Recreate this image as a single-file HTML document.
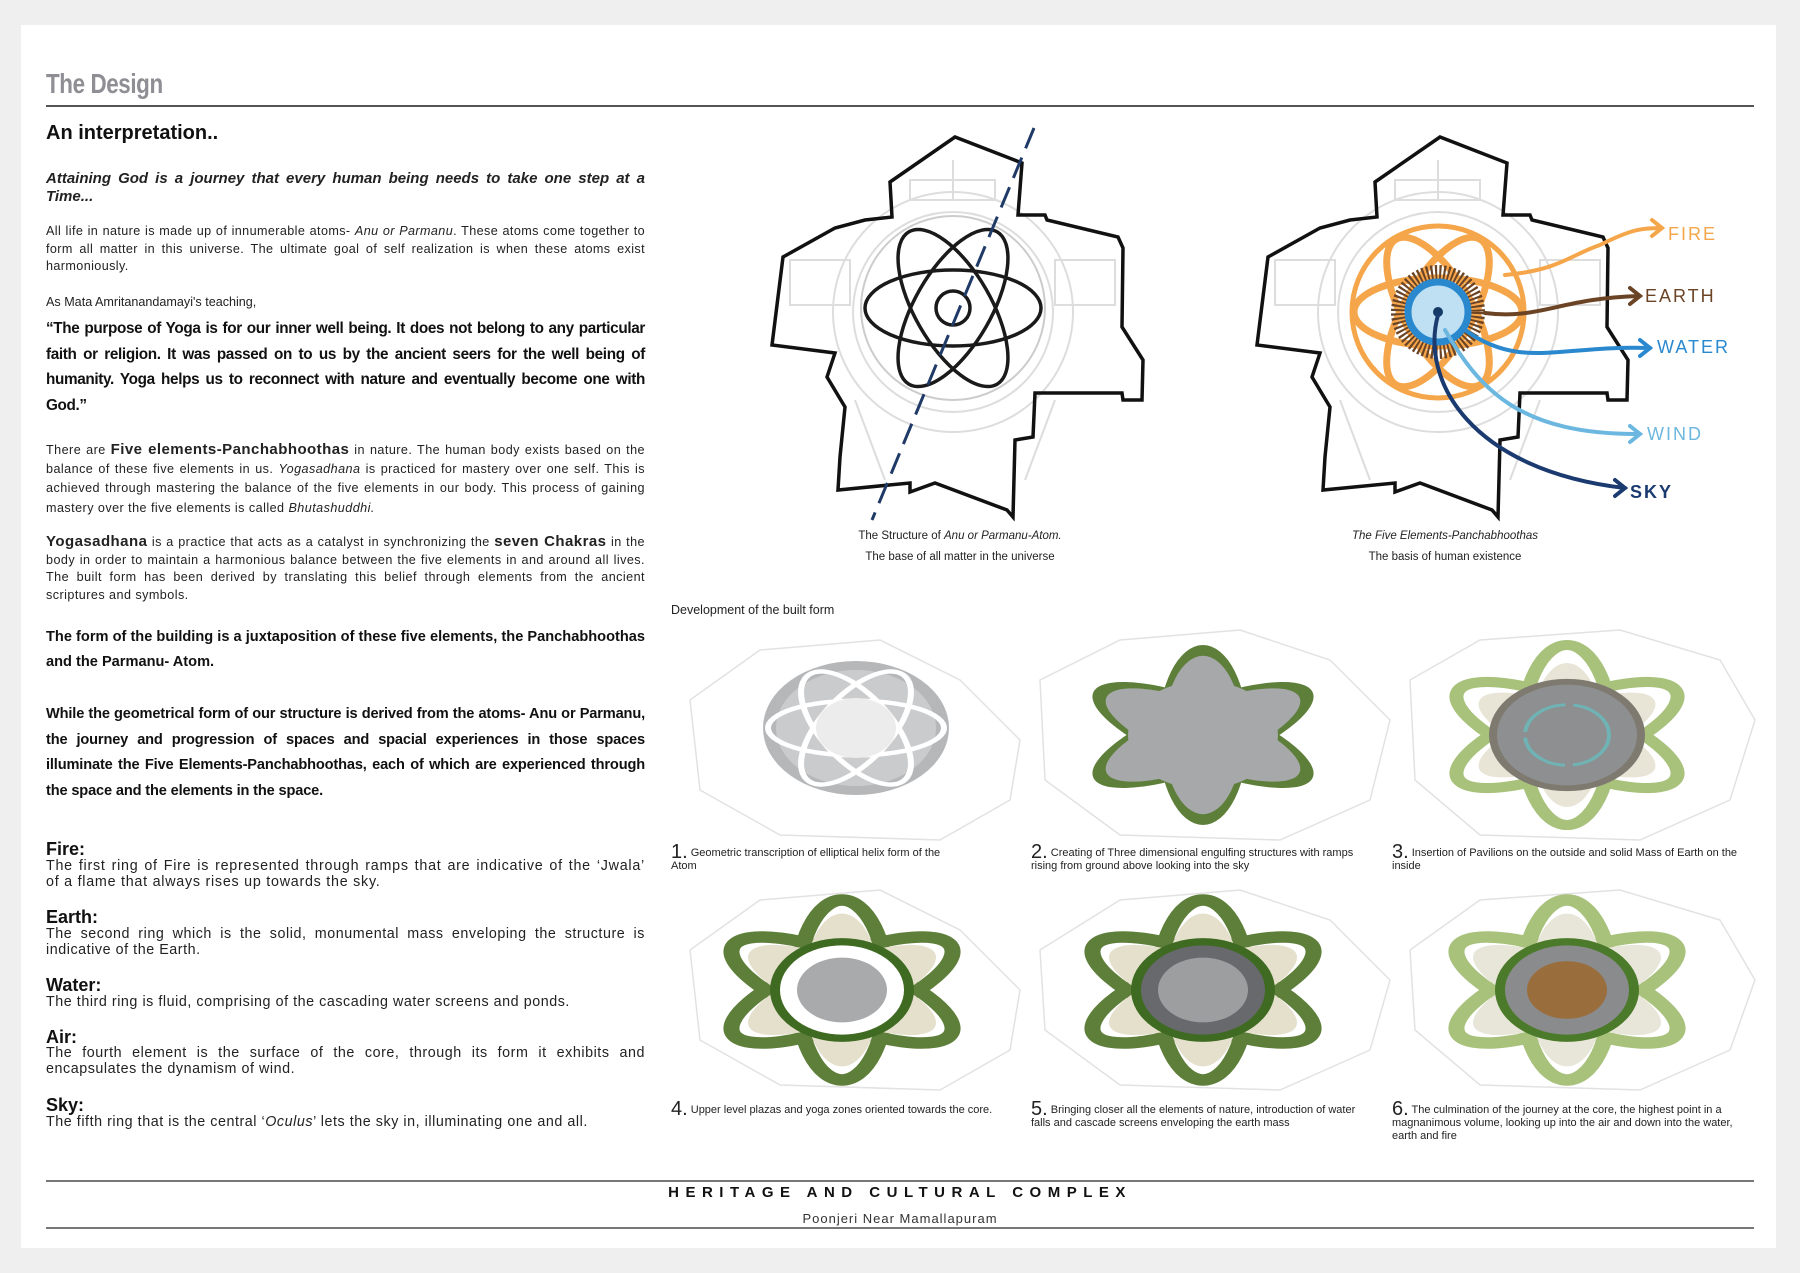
<!DOCTYPE html>
<html><head><meta charset="utf-8">
<style>
*{margin:0;padding:0;box-sizing:border-box}
html,body{width:1800px;height:1273px;overflow:hidden;background:#efefef;font-family:"Liberation Sans",sans-serif;color:#111}
#card{position:absolute;left:21px;top:25px;width:1755px;height:1223px;background:#fff}
.a{position:absolute}
p.t{position:absolute;left:46px;width:599px;text-align:justify;color:#222}
.cap{position:absolute;font-size:11px;color:#222;line-height:13px}
.cap b{font-weight:normal;font-size:20px;vertical-align:-2px}
.el{letter-spacing:.55px}
</style></head><body>
<div id="card"></div>
<div class="a" style="left:46px;top:68px;font-size:28px;font-weight:bold;color:#8e8e94;transform:scaleX(.8);transform-origin:left;letter-spacing:-.5px">The Design</div>
<div class="a" style="left:46px;top:105px;width:1708px;height:2px;background:#555"></div>
<div class="a" style="left:46px;top:122px;font-size:20px;font-weight:bold">An interpretation..</div>
<p class="t" style="top:170px;font-size:15px;line-height:18px;font-style:italic;font-weight:bold;text-align-last:left">Attaining God is a journey that every human being needs to take one step at a Time...</p>
<p class="t" style="top:223px;font-size:12.6px;line-height:17.5px;letter-spacing:.4px">All life in nature is made up of innumerable atoms- <i>Anu or Parmanu</i>. These atoms come together to form all matter in this universe. The ultimate goal of self realization is when these atoms exist harmoniously.</p>
<p class="t" style="top:294px;font-size:12.6px;line-height:17px">As Mata Amritanandamayi's teaching,</p>
<p class="t" style="top:316px;font-size:15.3px;line-height:25.5px;font-weight:bold;color:#111;letter-spacing:-.35px">“The purpose of Yoga is for our inner well being. It does not belong to any particular faith or religion. It was passed on to us by the ancient seers for the well being of humanity. Yoga helps us to reconnect with nature and eventually become one with God.”</p>
<p class="t" style="top:440px;font-size:12.6px;line-height:19.2px;letter-spacing:.45px">There are <b style="font-size:15px">Five elements-Panchabhoothas</b> in nature. The human body exists based on the balance of these five elements in us. <i>Yogasadhana</i> is practiced for mastery over one self. This is achieved through mastering the balance of the five elements in our body. This process of gaining mastery over the five elements is called <i>Bhutashuddhi.</i></p>
<p class="t" style="top:533px;font-size:12.6px;line-height:17.5px;letter-spacing:.45px"><b style="font-size:15px">Yogasadhana</b> is a practice that acts as a catalyst in synchronizing the <b style="font-size:15px">seven Chakras</b> in the body in order to maintain a harmonious balance between the five elements in and around all lives. The built form has been derived by translating this belief through elements from the ancient scriptures and symbols.</p>
<p class="t" style="top:625px;font-size:14.6px;line-height:25px;font-weight:bold;color:#111">The form of the building is a juxtaposition of these five elements, the Panchabhoothas and the Parmanu- Atom.</p>
<p class="t" style="top:702px;font-size:14.6px;line-height:25.5px;font-weight:bold;color:#111;letter-spacing:-.15px">While the geometrical form of our structure is derived from the atoms- Anu or Parmanu, the journey and progression of spaces and spacial experiences in those spaces illuminate the Five Elements-Panchabhoothas, each of which are experienced through the space and the elements in the space.</p>
<div class="a" style="left:46px;top:839px;font-size:18px;font-weight:bold">Fire:</div>
<p class="t" style="top:859px;font-size:14.3px;line-height:15.5px;letter-spacing:.75px">The first ring of Fire is represented through ramps that are indicative of the ‘Jwala’ of a flame that always rises up towards the sky.</p>
<div class="a" style="left:46px;top:907px;font-size:18px;font-weight:bold">Earth:</div>
<p class="t el" style="top:927px;font-size:14.3px;line-height:15.5px">The second ring which is the solid, monumental mass enveloping the structure is indicative of the Earth.</p>
<div class="a" style="left:46px;top:975px;font-size:18px;font-weight:bold">Water:</div>
<p class="t el" style="top:995px;font-size:14.3px;line-height:15.5px">The third ring is fluid, comprising of the cascading water screens and ponds.</p>
<div class="a" style="left:46px;top:1027px;font-size:18px;font-weight:bold">Air:</div>
<p class="t el" style="top:1046px;font-size:14.3px;line-height:15.5px">The fourth element is the surface of the core, through its form it exhibits and encapsulates the dynamism of wind.</p>
<div class="a" style="left:46px;top:1095px;font-size:18px;font-weight:bold">Sky:</div>
<p class="t el" style="top:1115px;font-size:14.3px;line-height:15.5px">The fifth ring that is the central ‘<i>Oculus</i>’ lets the sky in, illuminating one and all.</p>

<svg class="a" style="left:0;top:0" width="1800" height="1273" viewBox="0 0 1800 1273">
<defs>
<path id="site" d="M1375,182 L1440,137 L1507,163 L1503,215 L1530,215 L1532,220 L1603,237 L1608,248 L1607,327 L1628,360 L1627,400 L1608,400 L1607,393 L1520,393 L1518,437 L1500,440 L1498,517 L1492,510 L1420,483 L1395,492 L1395,483 L1323,490 L1325,457 L1330,407 L1312,377 L1320,353 L1257,345 L1268,257 L1320,228 L1350,220 L1377,217 Z"/>
<g id="plan" fill="none" stroke="#ddd" stroke-width="2">
<circle cx="1438" cy="312" r="100"/><circle cx="1438" cy="312" r="120"/>
<rect x="1275" y="260" width="60" height="45"/><rect x="1540" y="260" width="60" height="45"/>
<rect x="1395" y="180" width="85" height="20"/><path d="M1340,400 L1370,480 M1540,400 L1510,480 M1438,160 L1438,200"/>
</g>
<g id="ring3"><ellipse rx="125" ry="45" transform="rotate(90)"/><ellipse rx="125" ry="45" transform="rotate(30)"/><ellipse rx="125" ry="45" transform="rotate(150)"/></g>
</defs>
<g transform="translate(-485,0)"><use href="#plan"/><use href="#site" fill="none" stroke="#111" stroke-width="3.5"/></g>
<g fill="none" stroke="#1a1a1a" stroke-width="3.5" transform="translate(953,308)">
<circle r="92" stroke="#ccc" stroke-width="2"/>
<ellipse rx="88" ry="38"/><ellipse rx="88" ry="38" transform="rotate(60)"/><ellipse rx="88" ry="38" transform="rotate(120)"/>
<circle r="17"/></g>
<path d="M1034,128 L872,520" stroke="#1f3a66" stroke-width="3" stroke-dasharray="22,10" fill="none"/>
<use href="#plan"/><use href="#site" fill="none" stroke="#111" stroke-width="3.5"/>
<g transform="translate(1438,312)" fill="none">
<circle r="86" stroke="#f5a64a" stroke-width="5"/>
<g stroke="#f5a64a" stroke-width="7"><ellipse rx="84" ry="34"/><ellipse rx="84" ry="34" transform="rotate(60)"/><ellipse rx="84" ry="34" transform="rotate(120)"/></g>
<circle r="38" stroke="#6b4426" stroke-width="18" stroke-dasharray="2,2"/>
<circle r="30" fill="#bfe0f2" stroke="#2a88cf" stroke-width="7"/>
<circle r="5" fill="#153a66"/></g>
<g fill="none" stroke-width="4" stroke-linecap="round">
<path d="M1505,275 C1560,270 1570,255 1600,245 C1630,230 1640,228 1662,228 M1652,220 L1662,228 L1652,236" stroke="#f5a64a"/>
<path d="M1485,313 C1540,320 1560,298 1640,296 M1630,288 L1640,296 L1630,304" stroke="#6b4426"/>
<path d="M1465,330 C1520,370 1560,345 1650,348 M1640,340 L1650,348 L1640,356" stroke="#2a88cf"/>
<path d="M1445,330 C1480,390 1520,435 1640,434 M1630,426 L1640,434 L1630,442" stroke="#6cb7e0"/>
<path d="M1438,315 C1420,380 1470,470 1625,488 M1615,480 L1625,488 L1615,496" stroke="#1a3a70"/>
</g>
<g font-family="Liberation Sans,sans-serif" font-size="18" letter-spacing="2">
<text x="1668" y="240" fill="#f5a64a">FIRE</text>
<text x="1645" y="302" fill="#6b4426">EARTH</text>
<text x="1657" y="353" fill="#2a88cf">WATER</text>
<text x="1647" y="440" fill="#6cb7e0">WIND</text>
<text x="1630" y="498" fill="#1a3a70" font-weight="bold">SKY</text>
</g>
<g fill="none" stroke="#e2e2e2" stroke-width="1.5">
<path d="M690,700 L760,650 L880,640 L960,680 L1020,740 L1010,800 L940,840 L780,835 L700,790 Z"/>
<path d="M1040,680 L1120,640 L1240,630 L1330,660 L1390,720 L1370,800 L1280,840 L1120,835 L1045,780 Z"/>
<path d="M1410,680 L1480,640 L1620,630 L1720,660 L1755,720 L1730,800 L1640,840 L1480,835 L1415,780 Z"/>
<path d="M690,950 L760,900 L880,890 L960,930 L1020,990 L1010,1050 L940,1090 L780,1085 L700,1040 Z"/>
<path d="M1040,950 L1120,900 L1240,890 L1330,920 L1390,980 L1370,1050 L1280,1090 L1120,1085 L1045,1030 Z"/>
<path d="M1410,950 L1480,900 L1620,890 L1720,920 L1755,980 L1730,1050 L1640,1090 L1480,1085 L1415,1030 Z"/>
</g>
<g transform="translate(856,728)">
<ellipse rx="93" ry="67" fill="#b5b7b9"/>
<ellipse rx="80" ry="58" fill="#c9cbcd"/>
<g fill="none" stroke="#fff" stroke-width="6" transform="scale(1,0.72)"><ellipse rx="88" ry="38"/><ellipse rx="88" ry="38" transform="rotate(60)"/><ellipse rx="88" ry="38" transform="rotate(120)"/></g>
<ellipse rx="40" ry="30" fill="#ececec"/></g>
<g transform="translate(1203,735) scale(1,0.72)">
<use href="#ring3" fill="#5e7f3a"/><g transform="scale(.88)"><use href="#ring3" fill="#a6a8aa"/></g><circle r="75" fill="#a6a8aa"/></g>
<g transform="translate(1567,735) scale(1,0.72)">
<g fill="none" stroke="#a8c27c" stroke-width="14"><use href="#ring3"/></g>
<g transform="scale(.8)" fill="#e8e4d6"><use href="#ring3"/></g>
<circle r="78" fill="#7f7a70"/><circle r="70" fill="#8e8f91"/>
<circle r="42" fill="none" stroke="#6fb3b5" stroke-width="4" stroke-dasharray="60,8"/></g>
<g transform="translate(842,990) scale(1,0.72)">
<g fill="none" stroke="#5e7f3a" stroke-width="16"><use href="#ring3"/></g>
<g transform="scale(.85)" fill="#e4e0cc"><use href="#ring3"/></g>
<circle r="72" fill="#3f6a22"/><circle r="62" fill="#fff"/><circle r="45" fill="#a9aaac"/></g>
<g transform="translate(1203,990) scale(1,0.72)">
<g fill="none" stroke="#5e7f3a" stroke-width="16"><use href="#ring3"/></g>
<g transform="scale(.85)" fill="#e4e0cc"><use href="#ring3"/></g>
<circle r="72" fill="#3f6a22"/><circle r="62" fill="#67696c"/><circle r="45" fill="#9d9ea0"/></g>
<g transform="translate(1567,990) scale(1,0.72)">
<g fill="none" stroke="#a8c27c" stroke-width="16"><use href="#ring3"/></g>
<g transform="scale(.85)" fill="#e8e6d8"><use href="#ring3"/></g>
<circle r="72" fill="#4b7a2a"/><circle r="62" fill="#8a8b8d"/><circle r="40" fill="#9a6d3d"/></g>
</svg>

<div class="a" style="left:790px;top:526px;width:340px;text-align:center;font-size:11.5px;line-height:21px;color:#222">The Structure of <i>Anu or Parmanu-Atom.</i><br>The base of all matter in the universe</div>
<div class="a" style="left:1270px;top:526px;width:350px;text-align:center;font-size:11.5px;line-height:21px;color:#222"><i>The Five Elements-Panchabhoothas</i><br>The basis of human existence</div>
<div class="a" style="left:671px;top:603px;font-size:12.5px;color:#222">Development of the built form</div>

<div class="cap" style="left:671px;top:846px;width:290px"><b>1.</b> Geometric transcription of elliptical helix form of the Atom</div>
<div class="cap" style="left:1031px;top:846px;width:345px"><b>2.</b> Creating of Three dimensional engulfing structures with ramps rising from ground above looking into the sky</div>
<div class="cap" style="left:1392px;top:846px;width:365px"><b>3.</b> Insertion of Pavilions on the outside and solid Mass of Earth on the inside</div>
<div class="cap" style="left:671px;top:1103px;width:350px"><b>4.</b> Upper level plazas and yoga zones oriented towards the core.</div>
<div class="cap" style="left:1031px;top:1103px;width:345px"><b>5.</b> Bringing closer all the elements of nature, introduction of water falls and cascade screens enveloping the earth mass</div>
<div class="cap" style="left:1392px;top:1103px;width:345px"><b>6.</b> The culmination of the journey at the core, the highest point in a magnanimous volume, looking up into the air and down into the water, earth and fire</div>

<div class="a" style="left:46px;top:1180px;width:1708px;height:2px;background:#777"></div>
<div class="a" style="left:46px;top:1184px;width:1708px;text-align:center;font-size:15px;font-weight:bold;letter-spacing:6.5px">HERITAGE AND CULTURAL COMPLEX</div>
<div class="a" style="left:46px;top:1211px;width:1708px;text-align:center;font-size:13px;letter-spacing:1px;color:#333">Poonjeri Near Mamallapuram</div>
<div class="a" style="left:46px;top:1227px;width:1708px;height:2px;background:#777"></div>
</body></html>
